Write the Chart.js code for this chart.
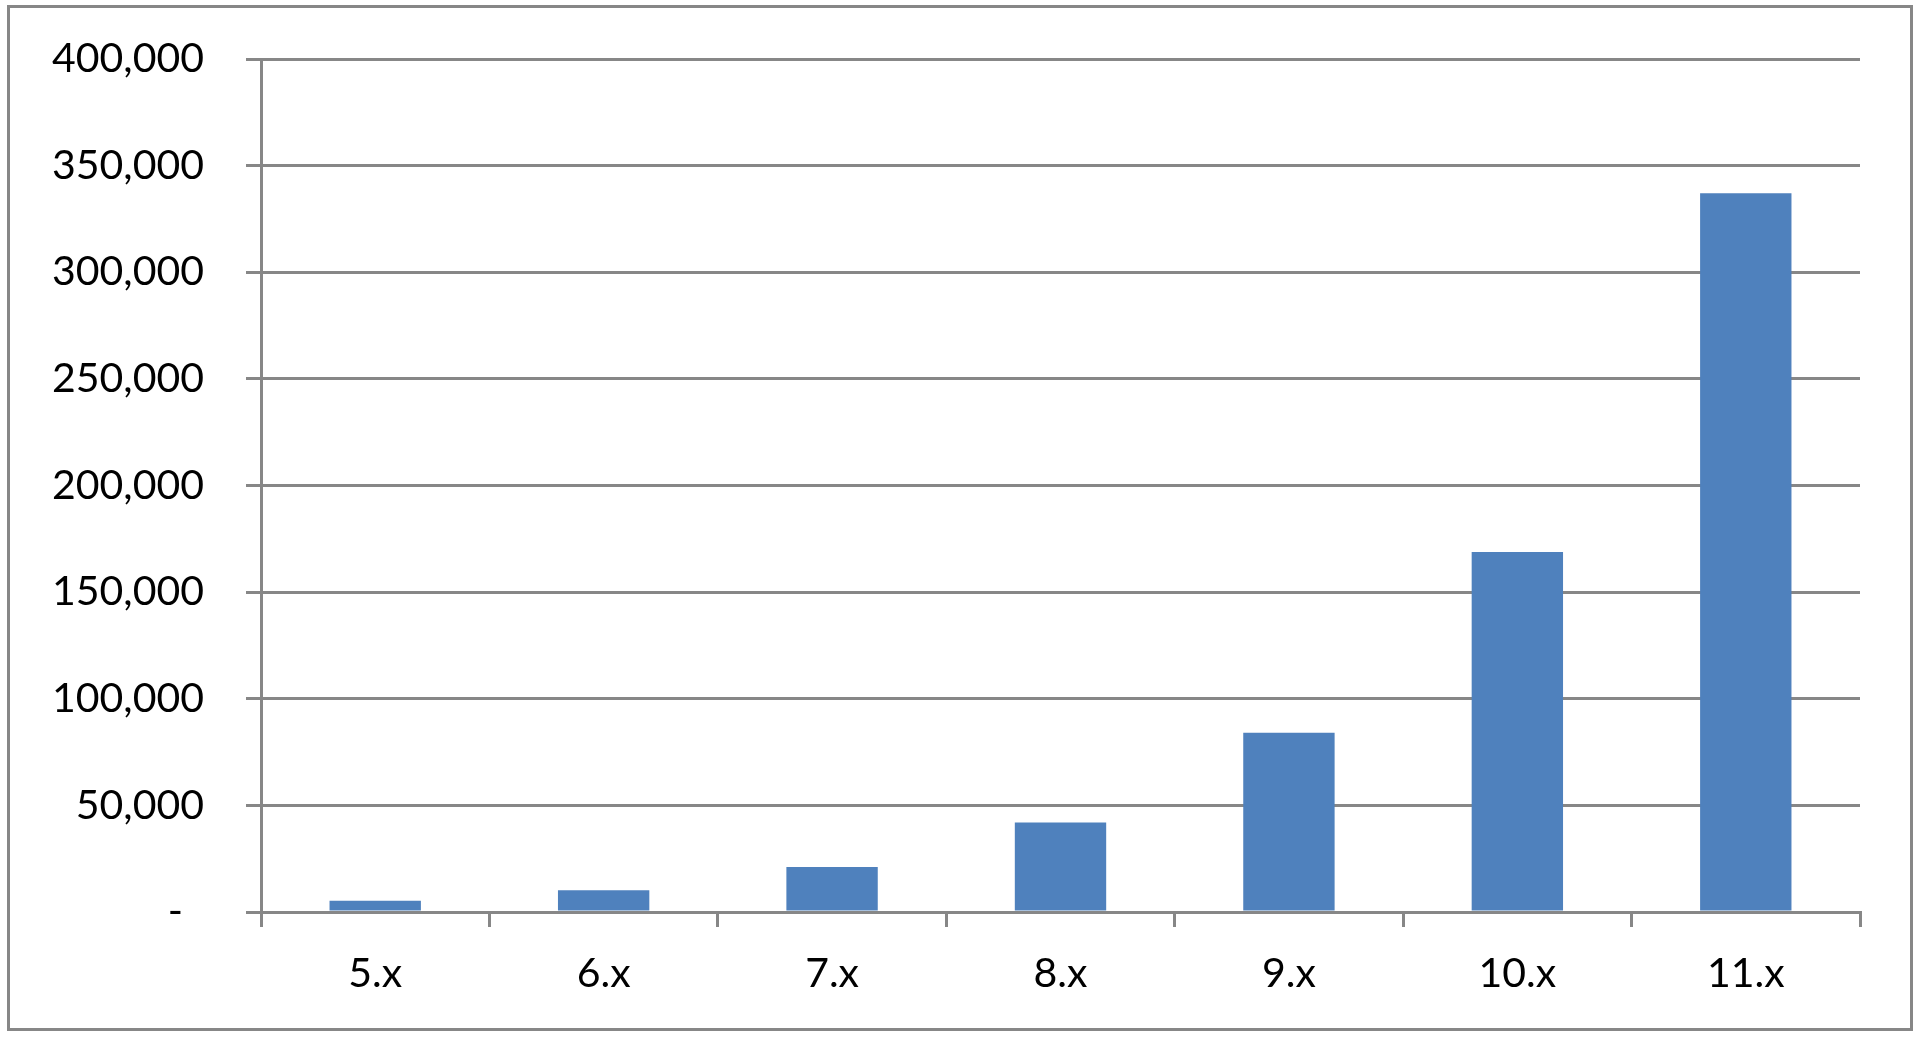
<!DOCTYPE html>
<html>
<head>
<meta charset="utf-8">
<script src="https://cdn.jsdelivr.net/npm/chart.js@4.4.1/dist/chart.umd.min.js"></script>
<style>
  html, body { margin: 0; padding: 0; background: #fff; }
  #frame {
    position: absolute; left: 7px; top: 5px;
    width: 1906px; height: 1026px;
    box-sizing: border-box; border: 3px solid #878787;
  }
  #wrap { position: absolute; left: 0; top: 0; width: 1920px; height: 1038px; }
</style>
</head>
<body>
<div id="frame"></div>
<div id="wrap"><canvas id="chart"></canvas></div>
<script>
const categories = ['5.x', '6.x', '7.x', '8.x', '9.x', '10.x', '11.x'];
const values = [5300, 10200, 21100, 42000, 84000, 168800, 337000];
const yMin = 0;
const yMax = 400000;
const yStep = 50000;

const gray = '#878787';
const font = { family: 'Lato, "Open Sans", sans-serif', size: 41 };

new Chart(document.getElementById('chart'), {
  type: 'bar',
  data: {
    labels: categories,
    datasets: [{
      data: values,
      backgroundColor: '#4f81bd',
      borderWidth: 0,
      barPercentage: 1,
      categoryPercentage: 0.4
    }]
  },
  options: {
    responsive: true,
    maintainAspectRatio: false,
    devicePixelRatio: 1,
    animation: false,
    layout: { padding: { left: 0, right: 60, top: 59, bottom: 0 } },
    plugins: { legend: { display: false }, tooltip: { enabled: false } },
    scales: {
      x: {
        grid: { offset: true, drawOnChartArea: false, drawTicks: true, tickLength: 15, color: gray, lineWidth: 3 },
        border: { display: true, color: gray, width: 3 },
        ticks: { color: '#000', font: font, padding: 22, maxRotation: 0 },
        afterFit: (scale) => { scale.height = 126; }
      },
      y: {
        min: yMin,
        max: yMax,
        grid: { color: gray, lineWidth: 3, drawTicks: true, tickLength: 15 },
        border: { display: true, color: gray, width: 3 },
        ticks: {
          stepSize: yStep,
          color: '#000',
          font: font,
          padding: 42,
          callback: (v) => v === 0 ? '-  ' : v.toLocaleString('en-US')
        },
        // tick padding would otherwise push the plot top down
        afterFit: (scale) => {
          scale.width = 261;
          scale.paddingTop = 0;
          scale.paddingBottom = 0;
        }
      }
    }
  }
});
</script>
</body>
</html>
